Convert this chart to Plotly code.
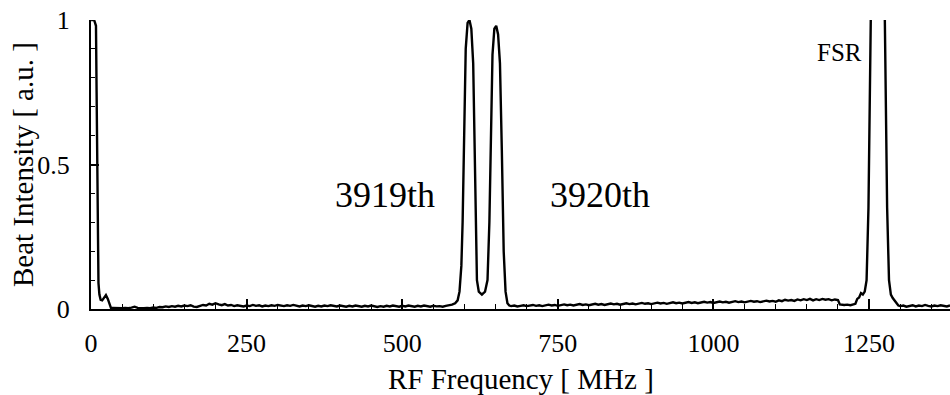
import plotly.graph_objects as go

# ---- data (RF frequency in MHz, beat intensity in a.u.) ----
dc_freq = [0, 2, 5, 8, 9, 10, 11, 12, 13.5, 15.5, 18, 21, 24, 27, 30, 32]
dc_int = [1.05, 1.0, 1.0, 0.98, 0.75, 0.45, 0.2, 0.09, 0.05, 0.032, 0.03, 0.04, 0.048, 0.035, 0.012, 0.004]

base1_freq = list(range(35, 590, 5))
base1_int = [.004, .003, .002, .003, .004, .003, .005, .008, .004, .003,
             .003, .004, .003, .005, .004, .007, .006, .009, .007, .010,
             .008, .011, .009, .012, .010, .013, .008, .007, .011, .014,
             .012, .018, .015, .020, .016, .013, .017, .012, .014, .010,
             .013, .011, .009, .012, .010, .014, .011, .013, .009, .012,
             .010, .013, .011, .014, .012, .010, .013, .011, .014, .012,
             .009, .012, .010, .013, .011, .008, .011, .009, .012, .010,
             .013, .011, .009, .012, .010, .008, .011, .009, .012, .010,
             .008, .011, .009, .012, .010, .007, .010, .008, .011, .009,
             .012, .010, .008, .011, .009, .012, .010, .008, .011, .009,
             .012, .010, .008, .011, .009, .010, .008, .011, .012, .015,
             .020]

modes_freq = [589, 592, 595, 597, 599, 602, 605, 608, 611, 614, 616, 618, 620, 623,
              628, 633, 637, 640, 642, 645, 648, 651, 654, 657, 660, 663, 666, 669, 672]
modes_int = [.03, .06, .15, .3, .6, .9, .99, 1.0, .97, .85, .6, .25, .1, .06,
             .05, .06, .1, .3, .6, .88, .97, .98, .95, .85, .55, .2, .06, .02, .012]

base2_freq = list(range(675, 1205, 5))
base2_int = [.010, .012, .009, .011, .013, .010, .012, .014, .011, .013,
             .010, .012, .015, .012, .014, .011, .013, .016, .013, .015,
             .012, .014, .017, .014, .016, .013, .015, .018, .015, .017,
             .014, .016, .019, .016, .018, .015, .017, .020, .017, .019,
             .016, .018, .021, .018, .020, .017, .019, .022, .019, .021,
             .018, .020, .023, .020, .022, .019, .021, .024, .021, .023,
             .020, .022, .025, .022, .024, .021, .023, .026, .023, .025,
             .022, .024, .027, .024, .026, .023, .025, .028, .025, .027,
             .024, .026, .029, .026, .028, .025, .030, .027, .032, .029,
             .031, .028, .033, .030, .034, .031, .035, .030, .034, .031,
             .035, .032, .034, .030, .033, .031]

fsr_freq = [1203, 1210, 1215, 1220, 1225, 1228, 1231, 1234, 1237, 1240, 1243,
            1246, 1249, 1252, 1255, 1264, 1273, 1276, 1279, 1282, 1285, 1288, 1291, 1294, 1297]
fsr_int = [.016, .014, .015, .013, .015, .018, .035, .040, .055, .050, .060,
           .10, .35, .80, 1.4, 3.0, 1.4, .80, .35, .10, .05, .038, .030, .018, .012]

base3_freq = list(range(1300, 1385, 5))
base3_int = [.010, .012, .008, .011, .013, .009, .012, .010, .014, .011,
             .009, .012, .010, .013, .011, .009, .012]

freq = dc_freq + base1_freq + modes_freq + base2_freq + fsr_freq + base3_freq
intensity = dc_int + base1_int + modes_int + base2_int + fsr_int + base3_int

x_ticks = [0, 250, 500, 750, 1000, 1250]
y_ticks = [0, 0.5, 1]
y_tick_text = ["0", "0.5", "1"]

labels = ["3919th", "3920th", "FSR"]
label_x = [472, 818, 1202]
label_y = [0.394, 0.394, 0.889]
label_size = [36, 36, 25]

FONT = "Liberation Serif, Times New Roman, serif"

fig = go.Figure()
fig.add_trace(go.Scatter(x=freq, y=intensity, mode="lines",
                         line=dict(color="black", width=2.4), hoverinfo="skip",
                         showlegend=False))

for t, xx, yy, s in zip(labels, label_x, label_y, label_size):
    fig.add_annotation(x=xx, y=yy, text=t, showarrow=False, xref="x", yref="y",
                       font=dict(family=FONT, size=s, color="black"))

fig.add_annotation(text="RF Frequency [ MHz ]", xref="paper", yref="paper",
                   x=(521 - 91) / 859, y=-(379 - 309) / 289, showarrow=False,
                   xanchor="center", yanchor="middle",
                   font=dict(family=FONT, size=29, color="black"))
fig.add_annotation(text="Beat Intensity [ a.u. ]", xref="paper", yref="paper",
                   x=-(91 - 23) / 859, y=(309 - 165) / 289, showarrow=False,
                   textangle=-90, xanchor="center", yanchor="middle",
                   font=dict(family=FONT, size=29, color="black"))

fig.update_layout(
    width=950, height=395,
    margin=dict(l=91, r=0, t=20, b=86, autoexpand=False),
    paper_bgcolor="white", plot_bgcolor="white",
    font=dict(family=FONT, size=26, color="black"),
    xaxis=dict(range=[0, 1380], tickmode="array", tickvals=x_ticks,
               ticks="inside", ticklen=10, tickwidth=1.5, tickcolor="black",
               showline=True, linecolor="black", linewidth=2,
               showgrid=False, zeroline=False, ticklabelstandoff=10,
               automargin=False,
               minor=dict(dtick=50, tick0=0, ticks="inside", ticklen=5,
                          tickwidth=1, tickcolor="black", showgrid=False),
               tickfont=dict(family=FONT, size=26, color="black")),
    yaxis=dict(range=[0, 1], tickmode="array", tickvals=y_ticks, ticktext=y_tick_text,
               ticks="inside", ticklen=8, tickwidth=1.5, tickcolor="black",
               showline=True, linecolor="black", linewidth=2,
               showgrid=False, zeroline=False, ticklabelstandoff=14,
               automargin=False,
               minor=dict(dtick=0.1, tick0=0, ticks="inside", ticklen=4,
                          tickwidth=1, tickcolor="black", showgrid=False),
               tickfont=dict(family=FONT, size=26, color="black")),
)

fig.write_html("out.html", config={"displayModeBar": False},
               post_script="document.body.style.margin='0';document.body.style.overflow='hidden';")
